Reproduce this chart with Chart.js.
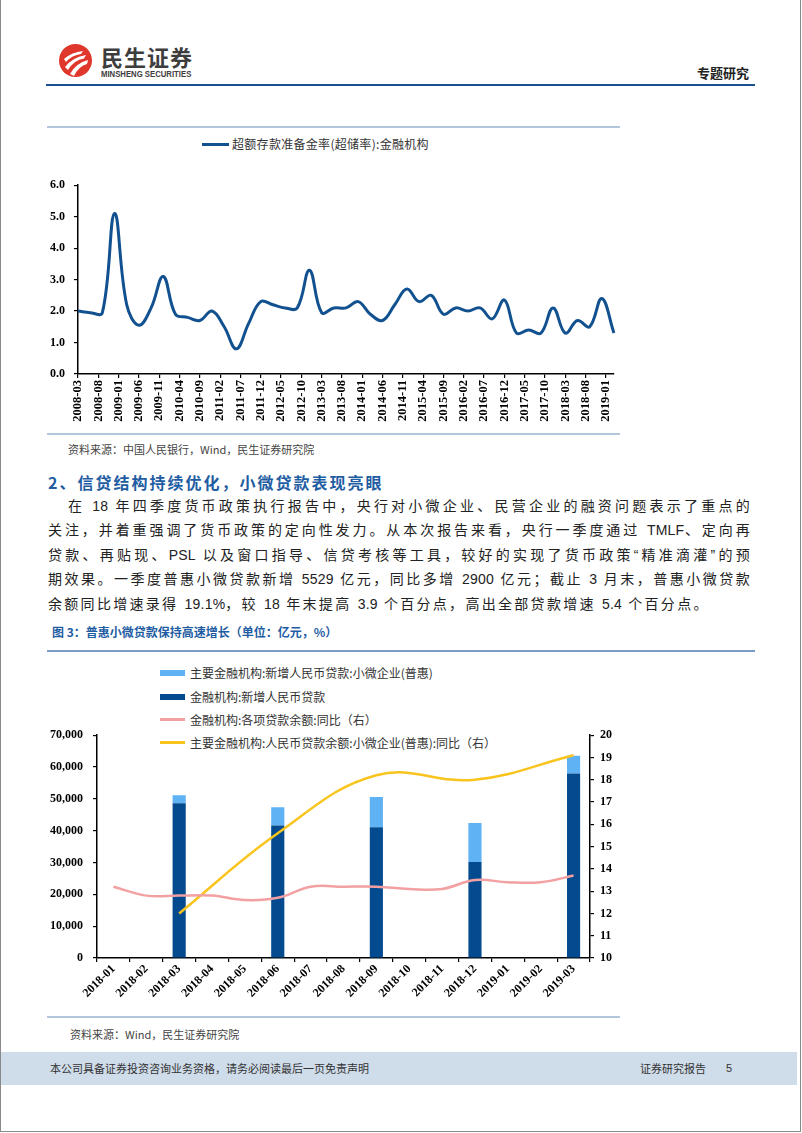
<!DOCTYPE html>
<html>
<head>
<meta charset="utf-8">
<script src="https://cdn.jsdelivr.net/npm/chart.js@4.4.1/dist/chart.umd.min.js"></script>
<style>
  body{margin:0;background:#fff;}
  #page{position:relative;width:802px;height:1133px;overflow:hidden;background:#fff;font-family:"Noto Sans CJK SC",sans-serif;}
  .abs{position:absolute;white-space:nowrap;}
  .rule{position:absolute;height:2px;background:#b2c6dc;}
  .src{font-size:11px;color:#444;}
  .para{position:absolute;font-family:"Liberation Sans","Noto Sans CJK SC",sans-serif;font-size:14px;letter-spacing:2.3px;color:#222;line-height:20px;white-space:nowrap;}
  .para .l{letter-spacing:0.2px;}
  .just{text-align:justify;text-align-last:justify;}
  .lg{position:absolute;font-size:12px;color:#333;line-height:16px;white-space:nowrap;}
  .sw{position:absolute;}
</style>
</head>
<body>
<div id="page">
  <!-- page frame -->
  <div class="abs" style="left:0;top:-1px;width:799px;height:1131px;border:1px solid #8a8a8a;"></div>

  <!-- header -->
  <svg class="abs" style="left:58px;top:43px" width="36" height="36" viewBox="0 0 36 36">
    <circle cx="17.5" cy="17.5" r="16.5" fill="#e0372d"/>
    <path d="M6 16 Q14 9 25 8 L23 11 Q14 12 8 19 Z" fill="#fff"/>
    <path d="M7 24 Q15 14 28 12 L26 15.5 Q16 17 10 27 Z" fill="#fff"/>
    <path d="M12 31 Q18 20 30 17 L29 21 Q21 23 16 33 Z" fill="#fff"/>
  </svg>
  <div class="abs" style="left:101px;top:42px;font-size:22px;font-weight:bold;color:#3d3d3d;letter-spacing:1px;line-height:28px;">民生证券</div>
  <div class="abs" style="left:101px;top:69px;font-family:'Liberation Sans',sans-serif;font-size:9px;font-weight:bold;color:#3d3d3d;line-height:11px;transform:scaleX(0.86);transform-origin:0 0;">MINSHENG SECURITIES</div>
  <div class="abs" style="left:697px;top:64px;font-size:13px;font-weight:bold;color:#222;line-height:18px;">专题研究</div>
  <div class="abs" style="left:46px;top:84px;width:709px;height:2px;background:#1d4f8c;"></div>

  <!-- figure 1 -->
  <div class="rule" style="left:47px;top:126px;width:573px;"></div>
  <div class="sw" style="left:202px;top:143px;width:27px;height:3px;background:#12518f;"></div>
  <div class="lg" style="left:232px;top:136px;letter-spacing:0.3px;">超额存款准备金率(超储率):金融机构</div>
  <canvas id="c1" class="abs" style="left:40px;top:169px;" width="600" height="269"></canvas>
  <div class="rule" style="left:47px;top:433px;width:573px;"></div>
  <div class="abs src" style="left:68px;top:441px;">资料来源：中国人民银行，Wind，民生证券研究院</div>

  <!-- section text -->
  <div class="abs" style="left:48px;top:471px;font-size:16px;font-weight:bold;color:#1f5da3;letter-spacing:2px;line-height:22px;">2、信贷结构持续优化，小微贷款表现亮眼</div>
  <div class="para just" style="left:68px;top:496px;width:684px;">在 <span class="l">18</span> 年四季度货币政策执行报告中，央行对小微企业、民营企业的融资问题表示了重点的</div>
  <div class="para just" style="left:48px;top:520px;width:704px;">关注，并着重强调了货币政策的定向性发力。从本次报告来看，央行一季度通过 <span class="l">TMLF</span>、定向再</div>
  <div class="para just" style="left:48px;top:545px;width:704px;">贷款、再贴现、<span class="l">PSL</span> 以及窗口指导、信贷考核等工具，较好的实现了货币政策“精准滴灌”的预</div>
  <div class="para just" style="left:48px;top:569px;width:704px;">期效果。一季度普惠小微贷款新增 <span class="l">5529</span> 亿元，同比多增 <span class="l">2900</span> 亿元；截止 <span class="l">3</span> 月末，普惠小微贷款</div>
  <div class="para" style="left:48px;top:594px;">余额同比增速录得 <span class="l">19.1%</span>，较 <span class="l">18</span> 年末提高 <span class="l">3.9</span> 个百分点，高出全部贷款增速 <span class="l">5.4</span> 个百分点。</div>

  <!-- figure 3 -->
  <div class="abs" style="left:52px;top:624px;font-size:12px;font-weight:bold;color:#1f5da3;line-height:16px;">图 3：普惠小微贷款保持高速增长（单位：亿元，%）</div>
  <div class="abs" style="left:47px;top:650px;width:708px;height:1.5px;background:#7a9cc6;"></div>
  <div class="sw" style="left:160px;top:670px;width:25px;height:6px;background:#5fb2f4;"></div>
  <div class="lg" style="left:190px;top:665px;">主要金融机构:新增人民币贷款:小微企业(普惠)</div>
  <div class="sw" style="left:160px;top:694px;width:25px;height:6px;background:#034a8f;"></div>
  <div class="lg" style="left:190px;top:689px;">金融机构:新增人民币贷款</div>
  <div class="sw" style="left:160px;top:718px;width:25px;height:3px;background:#f3a0a3;"></div>
  <div class="lg" style="left:190px;top:712px;">金融机构:各项贷款余额:同比（右）</div>
  <div class="sw" style="left:160px;top:741px;width:25px;height:3px;background:#f8c41d;"></div>
  <div class="lg" style="left:190px;top:735px;">主要金融机构:人民币贷款余额:小微企业(普惠):同比（右）</div>
  <canvas id="c2" class="abs" style="left:40px;top:718px;" width="590" height="298"></canvas>
  <div class="rule" style="left:47px;top:1016px;width:573px;"></div>
  <div class="abs src" style="left:70px;top:1026px;">资料来源：Wind，民生证券研究院</div>

  <!-- footer -->
  <div class="abs" style="left:1px;top:1052px;width:796px;height:33px;background:#cfdcea;"></div>
  <div class="abs" style="left:50px;top:1061px;font-size:11px;color:#333;line-height:15px;">本公司具备证券投资咨询业务资格，请务必阅读最后一页免责声明</div>
  <div class="abs" style="left:640px;top:1061px;font-size:11px;color:#333;line-height:15px;">证券研究报告</div>
  <div class="abs" style="left:726px;top:1061px;font-family:'Liberation Sans',sans-serif;font-size:11px;color:#333;line-height:15px;">5</div>
</div>

<script>
// ---- figure 1: excess reserve ratio, quarterly ----
var reserveStart = [2008, 3], reserveEnd = [2019, 3];
var reserveRatio = [
  2.0, 1.95, 1.95, 5.1,   // 2008
  2.2, 1.55, 2.1, 3.1,    // 2009
  1.9, 1.8, 1.7, 2.0,     // 2010
  1.5, 0.8, 1.6, 2.3,     // 2011
  2.2, 2.1, 2.1, 3.3,     // 2012
  1.95, 2.1, 2.1, 2.3,    // 2013
  1.9, 1.7, 2.2, 2.7,     // 2014
  2.3, 2.5, 1.9, 2.1,     // 2015
  2.0, 2.1, 1.75, 2.35,   // 2016
  1.3, 1.4, 1.3, 2.1,     // 2017
  1.3, 1.7, 1.5, 2.4,     // 2018
  1.3                     // 2019-03
];
var reserveYTicks = [0, 1, 2, 3, 4, 5, 6];

// ---- figure 3 ----
var loanMonths = ['2018-01','2018-02','2018-03','2018-04','2018-05','2018-06','2018-07','2018-08','2018-09','2018-10','2018-11','2018-12','2019-01','2019-02','2019-03'];
var loanQuarters = ['2018-03','2018-06','2018-09','2018-12','2019-03'];
var newLoanTotal = [48600, 41600, 41100, 30200, 58000];      // 金融机构:新增人民币贷款
var newLoanSmall = [2500, 5800, 9450, 12250, 5529];          // 普惠小微新增
var loanGrowthAll = [13.2, 12.8, 12.8, 12.8, 12.6, 12.7, 13.2, 13.2, 13.2, 13.1, 13.1, 13.5, 13.4, 13.4, 13.7];
var loanGrowthSmall = [12.0, 15.6, 18.2, 18.0, 19.1];       // 普惠小微余额同比 (quarterly)

function pad2(n){return n<10?'0'+n:''+n;}
var monthLabels=[];
for(var y=reserveStart[0],m=reserveStart[1]; y<reserveEnd[0] || (y===reserveEnd[0] && m<=reserveEnd[1]); ){
  monthLabels.push(y+'-'+pad2(m));
  m++; if(m>12){m=1;y++;}
}
var quarterLabels=monthLabels.filter(function(l){return ['03','06','09','12'].indexOf(l.substring(5))>=0;});

var tickFont={family:'Liberation Serif',size:12,weight:'bold'};
var axisBorder={display:true,color:'#000',width:1.5};

new Chart(document.getElementById('c1'),{
  type:'line',
  data:{labels:monthLabels,datasets:[{
    data:reserveRatio.map(function(v,i){return {x:quarterLabels[i],y:v};}),
    borderColor:'#12518f',borderWidth:3,tension:0.4,pointRadius:0,fill:false
  }]},
  options:{
    responsive:false,animation:false,
    layout:{padding:{top:1,right:26,left:0,bottom:0}},
    plugins:{legend:{display:false},tooltip:{enabled:false}},
    scales:{
      x:{type:'category',offset:false,
        afterBuildTicks:function(s){s.ticks=s.ticks.filter(function(t,i){return i%5===0;});},
        afterFit:function(s){s.height=64;},
        grid:{display:true,drawOnChartArea:false,tickLength:4,color:'#000',lineWidth:1.2},
        border:axisBorder,
        ticks:{autoSkip:false,minRotation:90,maxRotation:90,padding:2,color:'#000',font:{family:'Liberation Serif',size:12.5,weight:'bold'}}
      },
      y:{min:0,max:6,
        afterBuildTicks:function(s){s.ticks=reserveYTicks.map(function(v){return {value:v};});},
        afterFit:function(s){s.width=38;},
        grid:{display:true,drawOnChartArea:false,tickLength:4,color:'#000',lineWidth:1.2},
        border:axisBorder,
        ticks:{padding:9,color:'#000',font:tickFont,callback:function(v){return v.toFixed(1);}}
      }
    }
  }
});

new Chart(document.getElementById('c2'),{
  type:'bar',
  data:{labels:loanMonths,datasets:[
    {type:'line',label:'金融机构:各项贷款余额:同比（右）',yAxisID:'y1',order:0,
      data:loanGrowthAll,borderColor:'#f3a0a3',borderWidth:2.5,tension:0.4,pointRadius:0,fill:false},
    {type:'line',label:'主要金融机构:人民币贷款余额:小微企业(普惠):同比（右）',yAxisID:'y1',order:0,
      data:loanGrowthSmall.map(function(v,i){return {x:loanQuarters[i],y:v};}),
      borderColor:'#f8c41d',borderWidth:2.5,tension:0.4,pointRadius:0,fill:false},
    {label:'金融机构:新增人民币贷款',yAxisID:'y',order:1,stack:'s',
      data:newLoanTotal.map(function(v,i){return {x:loanQuarters[i],y:v};}),
      backgroundColor:'#034a8f',barPercentage:0.4,categoryPercentage:1},
    {label:'主要金融机构:新增人民币贷款:小微企业(普惠)',yAxisID:'y',order:1,stack:'s',
      data:newLoanSmall.map(function(v,i){return {x:loanQuarters[i],y:v};}),
      backgroundColor:'#5fb2f4',barPercentage:0.4,categoryPercentage:1}
  ]},
  options:{
    responsive:false,animation:false,
    layout:{padding:{top:2,right:0,left:0,bottom:0}},
    plugins:{legend:{display:false},tooltip:{enabled:false}},
    scales:{
      x:{stacked:true,offset:true,
        afterFit:function(s){s.height=58;},
        grid:{display:true,drawOnChartArea:false,offset:true,tickLength:4,color:'#000',lineWidth:1.2},
        border:axisBorder,
        ticks:{autoSkip:false,minRotation:45,maxRotation:45,padding:0,color:'#000',font:tickFont}
      },
      y:{stacked:true,position:'left',min:0,max:70000,
        afterFit:function(s){s.width=57;},
        grid:{display:true,drawOnChartArea:false,tickLength:4,color:'#000',lineWidth:1.2},
        border:axisBorder,
        ticks:{stepSize:10000,padding:10,color:'#000',font:tickFont,callback:function(v){return v.toLocaleString('en-US');}}
      },
      y1:{position:'right',min:10,max:20,
        afterFit:function(s){s.width=40;},
        grid:{display:true,drawOnChartArea:false,tickLength:4,color:'#000',lineWidth:1.2},
        border:axisBorder,
        ticks:{stepSize:1,padding:6,color:'#000',font:tickFont}
      }
    }
  }
});
</script>
</body>
</html>
